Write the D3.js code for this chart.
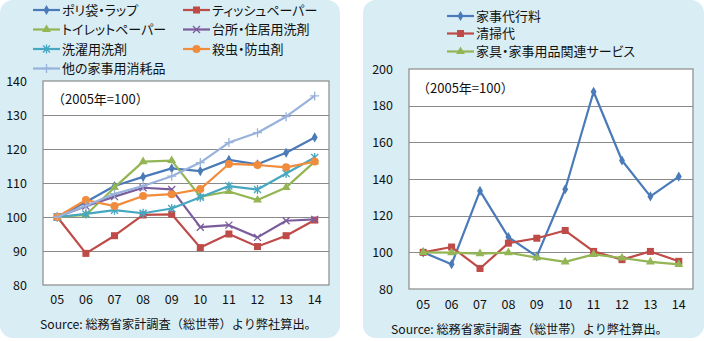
<!DOCTYPE html>
<html>
<head>
<meta charset="utf-8">
<script src="https://cdn.jsdelivr.net/npm/d3@7"></script>
<style>
  body { margin: 0; background: #ffffff; }
  svg text { font-family: "Noto Sans CJK JP", "Noto Sans", sans-serif; fill: #111; }
  svg text.palt { font-feature-settings: "palt"; }
</style>
</head>
<body>
<div id="chart"></div>
<script>
var svgWidth = 704;
var svgHeight = 341;

// data
var years = ["05", "06", "07", "08", "09", "10", "11", "12", "13", "14"];

var leftNames = ["ポリ袋・ラップ", "ティッシュペーパー", "トイレットペーパー", "台所・住居用洗剤",
  "洗濯用洗剤", "殺虫・防虫剤", "他の家事用消耗品"];
var polyWrap = [100, 104.4, 109.1, 111.8, 114.3, 113.5, 116.8, 115.5, 118.9, 123.4];
var tissue = [100, 89.3, 94.5, 100.6, 100.8, 91.0, 95.0, 91.3, 94.5, 99.1];
var toiletPaper = [100, 100.6, 108.7, 116.3, 116.6, 106.0, 107.5, 105.0, 108.7, 116.3];
var kitchenDetergent = [100, 103.2, 106.0, 108.6, 108.1, 97.0, 97.6, 94.0, 98.9, 99.3];
var laundryDetergent = [100, 100.9, 102.0, 101.1, 102.5, 105.8, 109.1, 108.1, 112.8, 117.5];
var insecticide = [100, 105.0, 103.2, 106.2, 106.7, 108.2, 115.6, 115.3, 114.6, 116.3];
var otherSupplies = [100, 103.3, 106.8, 109.1, 112.0, 116.0, 121.9, 124.8, 129.5, 135.6];
var leftTicks = [80, 90, 100, 110, 120, 130, 140];

var rightNames = ["家事代行料", "清掃代", "家具・家事用品関連サービス"];
var housekeeping = [100, 93.5, 133.5, 108.3, 97.8, 134.4, 187.6, 150.1, 130.5, 141.3];
var cleaning = [100, 102.9, 91.2, 105.0, 107.7, 111.9, 100.5, 96.0, 100.5, 95.1];
var furnitureService = [100, 99.8, 99.3, 99.8, 97.1, 94.8, 98.9, 96.9, 94.8, 93.4];
var rightTicks = [80, 100, 120, 140, 160, 180, 200];

var sourceText = "Source: 総務省家計調査（総世帯）より弊社算出。";
var baseText = "（2005年=100）";

var svg = d3.select("#chart")
  .append("svg")
  .attr("width", svgWidth)
  .attr("height", svgHeight);

// draws one marker shape at 0,0
function drawMarker(g, type, color) {
  if (type === "diamond") {
    g.append("path").attr("d", d3.symbol(d3.symbolDiamond, 30)()).attr("fill", color);
  } else if (type === "square") {
    g.append("rect").attr("x", -3.5).attr("y", -3.5).attr("width", 7).attr("height", 7).attr("fill", color);
  } else if (type === "triangle") {
    g.append("path").attr("d", d3.symbol(d3.symbolTriangle, 34)()).attr("fill", color);
  } else if (type === "circle") {
    g.append("circle").attr("r", 4).attr("fill", color);
  } else if (type === "x") {
    g.append("path").attr("d", "M-3.5,-3.5L3.5,3.5M-3.5,3.5L3.5,-3.5").attr("stroke", color).attr("stroke-width", 1.3);
  } else if (type === "star") {
    g.append("path").attr("d", "M-3.5,-3.5L3.5,3.5M-3.5,3.5L3.5,-3.5M0,-4.5L0,4.5").attr("stroke", color).attr("stroke-width", 1.3);
  } else if (type === "plus") {
    g.append("path").attr("d", "M-4.5,0L4.5,0M0,-4.5L0,4.5").attr("stroke", color).attr("stroke-width", 1.3);
  }
}

function drawPanel(p) {
  var panel = svg.append("g");

  panel.append("rect")
    .attr("x", p.box[0])
    .attr("y", p.box[1])
    .attr("width", p.box[2])
    .attr("height", p.box[3])
    .attr("rx", 13)
    .attr("fill", "#d9edf5");

  var xScale = d3.scaleBand()
    .domain(years)
    .range([p.plot.left, p.plot.right]);

  var yScale = d3.scaleLinear()
    .domain(p.domain)
    .range([p.plot.bottom, p.plot.top]);

  panel.append("rect")
    .attr("x", p.plot.left)
    .attr("y", p.plot.top)
    .attr("width", p.plot.right - p.plot.left)
    .attr("height", p.plot.bottom - p.plot.top)
    .attr("fill", "#ffffff")
    .attr("stroke", "#8a8a8a")
    .attr("stroke-width", 1.2);

  // gridlines
  panel.selectAll(".grid")
    .data(p.ticks.slice(1, -1))
    .enter()
    .append("line")
    .attr("x1", p.plot.left)
    .attr("x2", p.plot.right)
    .attr("y1", d => Math.round(yScale(d)) + 0.5)
    .attr("y2", d => Math.round(yScale(d)) + 0.5)
    .attr("stroke", "#8a8a8a")
    .attr("stroke-width", 1.1);

  // y axis labels
  var leftAxis = d3.axisLeft(yScale).tickValues(p.ticks).tickSize(0).tickPadding(0);
  var yAxis = panel.append("g")
    .attr("transform", `translate(${p.yLabelX}, 0)`)
    .call(leftAxis);
  yAxis.select(".domain").remove();
  yAxis.selectAll("text").style("font-size", "12.5px").attr("fill", "#111");

  // x axis labels
  var bottomAxis = d3.axisBottom(xScale).tickSize(0).tickPadding(0);
  var xAxis = panel.append("g")
    .attr("transform", `translate(0, ${p.xLabelY})`)
    .call(bottomAxis);
  xAxis.select(".domain").remove();
  xAxis.selectAll("text").style("font-size", "12.5px").attr("fill", "#111");

  panel.append("text")
    .attr("x", p.baseX)
    .attr("y", p.baseY)
    .attr("dy", "0.35em")
    .style("font-size", "13px")
    .text(baseText);

  panel.append("text")
    .attr("x", p.sourceX)
    .attr("y", p.sourceY)
    .attr("dy", "0.35em")
    .style("font-size", "12.2px")
    .text(sourceText);

  var line = d3.line()
    .x((d, i) => xScale(years[i]) + xScale.bandwidth() / 2)
    .y(d => yScale(d));

  p.series.forEach(function(s) {
    panel.append("path")
      .datum(s.values)
      .attr("d", line)
      .attr("fill", "none")
      .attr("stroke", s.color)
      .attr("stroke-width", 2.2)
      .attr("stroke-linejoin", "round");

    s.values.forEach(function(v, i) {
      var m = panel.append("g")
        .attr("transform", `translate(${xScale(years[i]) + xScale.bandwidth() / 2}, ${yScale(v)})`);
      drawMarker(m, s.marker, s.color);
    });
  });

  // legend
  p.series.forEach(function(s, i) {
    var lx = p.legend.x[i % p.legend.cols];
    var ly = p.legend.y[Math.floor(i / p.legend.cols)];
    var lg = panel.append("g").attr("transform", `translate(${lx}, ${ly})`);
    lg.append("line")
      .attr("x1", 0)
      .attr("x2", 27)
      .attr("stroke", s.color)
      .attr("stroke-width", 2.2);
    var m = lg.append("g").attr("transform", "translate(13.5, 0)");
    drawMarker(m, s.marker, s.color);
    lg.append("text")
      .attr("x", 29)
      .attr("dy", "0.35em")
      .classed("palt", p.palt)
      .style("font-size", "13px")
      .text(s.name);
  });
}

var leftColors = ["#4a7ab8", "#be4b48", "#93b554", "#7b5c9c", "#46a7c0", "#f08c3c", "#98b2dc"];
var leftMarkers = ["diamond", "square", "triangle", "x", "star", "circle", "plus"];
var leftValues = [polyWrap, tissue, toiletPaper, kitchenDetergent, laundryDetergent, insecticide, otherSupplies];

drawPanel({
  box: [0, 0, 340, 338],
  plot: { left: 43, right: 329, top: 81, bottom: 285 },
  domain: [80, 140],
  ticks: leftTicks,
  yLabelX: 27,
  xLabelY: 295,
  baseX: 52,
  baseY: 99,
  sourceX: 40,
  sourceY: 325,
  palt: true,
  legend: { cols: 2, x: [33, 183], y: [10, 29.5, 49, 68.5] },
  series: leftNames.map((n, i) => ({ name: n, values: leftValues[i], color: leftColors[i], marker: leftMarkers[i] }))
});

var rightColors = ["#4a7ab8", "#be4b48", "#93b554"];
var rightMarkers = ["diamond", "square", "triangle"];
var rightValues = [housekeeping, cleaning, furnitureService];

drawPanel({
  box: [363, 0, 341, 338],
  plot: { left: 409, right: 693, top: 69, bottom: 289 },
  domain: [80, 200],
  ticks: rightTicks,
  yLabelX: 393,
  xLabelY: 300,
  baseX: 417,
  baseY: 88,
  sourceX: 391,
  sourceY: 330,
  palt: true,
  legend: { cols: 1, x: [447], y: [16, 33.5, 51.5] },
  series: rightNames.map((n, i) => ({ name: n, values: rightValues[i], color: rightColors[i], marker: rightMarkers[i] }))
});
</script>
</body>
</html>
